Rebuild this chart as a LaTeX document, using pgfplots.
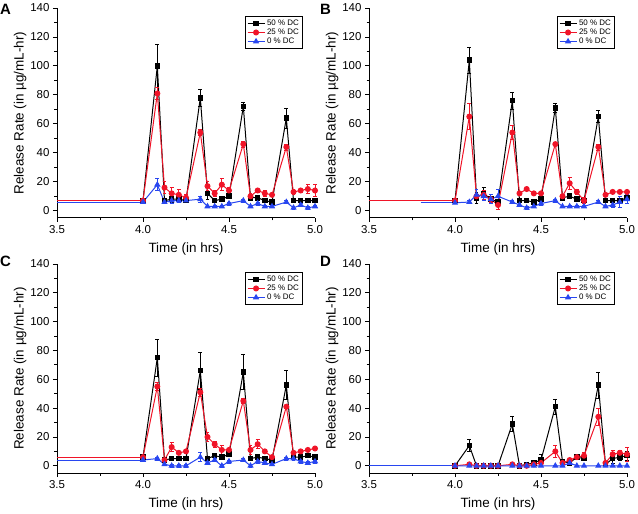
\documentclass[border=0pt]{standalone}
\usepackage{fontspec}
\setmainfont{Liberation Sans}
\usepackage{pgfplots}
\usepackage{pgfplotstable}
\pgfplotsset{compat=1.18}
\definecolor{myred}{RGB}{240,20,40}
\definecolor{myblue}{RGB}{40,70,240}

% columns: x, black (50 % DC) + err, red (25 % DC) + err, blue (0 % DC) + err
\pgfplotstableread{
x b be r re g ge
4.0 7 0.5 7 0.5 6 0.5
4.0833 100 15 81 4 18 4
4.125 7 1 16 4 6 1
4.1667 8 2 12 4 7 2
4.2083 8 1 11 4 7 1
4.25 7 1 9 2 7 1
4.3333 78 6 54 2 8 2
4.375 12 4 17 3 3 1
4.4167 7 1 12 2 3 1
4.4583 8 1 18 4 3 1
4.5 10 1 14 2 5 1
4.5833 72 3 46 2 7 1
4.625 9 1 10 2 3 1
4.6667 9 1 14 1 5 1
4.7083 7 1 12 2 3 1
4.75 6 1 11 1 3 1
4.8333 64 7 44 2 6 1
4.875 7 1 13 2 2 1
4.9167 7 1 14 1 4 1
4.9583 7 1 15 3 2 1
5.0 7 1 14 4 3 1
}\tA
\pgfplotstableread{
x b be r re g ge
4.0 7 0.5 7 0.5 5.5 0.5
4.0833 104 9 65 9 6 1
4.125 9 4 10 2 11 4
4.1667 12 4 11 3 10 3
4.2083 8 2 8 2 8 3
4.25 6 2 4 3 10 5
4.3333 76 6 54 5 6 1
4.375 7 1 12 1 4 1
4.4167 7 1 15 1 2 1
4.4583 6 1 12 1 3 1
4.5 8 1 12 1 5 1
4.5833 71 3 46 1 7 1
4.625 9 1 10 1 3 1
4.6667 10 1 19 4 3 1
4.7083 8 1 13 2 3 1
4.75 7 1 7 2 3 1
4.8333 65 4 44 2 6 1
4.875 7 1 11 1 3 1
4.9167 7 1 13 1 4 2
4.9583 7 1 13 1 6 4
5.0 9 2 13 1 8 3
}\tB
\pgfplotstableread{
x b be r re g ge
4.0 6 0.5 6 0.5 4 0.5
4.0833 75 13 55 3 5 1
4.125 4 1 4 1 1 1
4.1667 5 1 13 3 0 1
4.2083 5 1 9 1 0 1
4.25 5 1 10 1 0 1
4.3333 66 13 51 3 6 3
4.375 5 1 20 3 2 1
4.4167 7 1 15 2 4 1
4.4583 6 1 11 3 0 1
4.5 8 1 11 1 3 1
4.5833 65 12 45 2 4 1
4.625 5 1 11 3 0 1
4.6667 6 1 15 3 3 1
4.7083 5 1 10 1 2 1
4.75 4 1 6 1 1 1
4.8333 56 10 41 1 5 1
4.875 6 1 9 1 5 1
4.9167 6 1 10 1 3 1
4.9583 7 1 11 1 2 1
5.0 6 1 12 1 3 1
}\tC
\pgfplotstableread{
x b be r re g ge
4.0 0 0.3 0 0.3 0 0.3
4.0833 14 4 1 1 0 0.3
4.125 0 0.3 0 0.3 0 0.3
4.1667 0 0.3 0 0.3 0 0.3
4.2083 0 0.3 0 0.3 0 0.3
4.25 0 0.3 0 0.3 0 0.3
4.3333 29 5 1 1 0 0.3
4.375 0 0.3 0 0.3 0 0.3
4.4167 1 1 0 0.3 0 0.3
4.4583 2 1 1 1 0 0.3
4.5 4 4 2 1 0 0.3
4.5833 41 5 10 4 0 0.3
4.625 3 1 2 1 0 0.3
4.6667 2 1 4 1 2 1
4.7083 6 1 6 1 0 0.3
4.75 5 1 7 2 0 0.3
4.8333 56 9 34 6 0 0.3
4.875 1 1 2 1 0 0.3
4.9167 5 3 8 3 0 0.3
4.9583 6 2 9 2 0 0.3
5.0 7 3 8 5 0 0.3
}\tD

\pgfplotsset{
 panel/.style={
  width=258bp, height=210bp, scale only axis,
  xmin=3.5, xmax=5.0, ymin=-5, ymax=140,
  axis x line*=bottom, axis y line*=left,
  axis line style={line width=1pt, -},
  xtick={3.5,4.0,4.5,5.0}, minor xtick={3.75,4.25,4.75},
  ytick={0,20,...,140}, minor ytick={10,30,...,130},
  tick align=outside,
  major tick length=4bp, minor tick length=2.5bp,
  every tick/.style={line width=0.9pt, black},
  xticklabel style={/pgf/number format/.cd, fixed, fixed zerofill, precision=1},
  /pgf/number format/assume math mode=true,
  ticklabel style={font=\fontsize{11.5}{12}\selectfont},
  label style={font=\fontsize{13.5}{15}\selectfont},
  xlabel={Time (in hrs)}, ylabel={Release Rate (in µg/mL-hr)},
  xlabel style={at={(axis description cs:0.5,-0.148)}, anchor=center},
  ylabel style={at={(axis description cs:-0.143,0.5)}, anchor=center},
  clip=false,
  legend style={at={(0.953,0.962)}, anchor=north east,
    font=\fontsize{8}{9}\selectfont, draw=black, line width=0.9pt,
    inner sep=1.5pt, row sep=-2pt, cells={anchor=west}},
 },
 bser/.style={black, line width=1pt, mark=square*, mark size=2.3pt, mark options={solid},
  error bars/y dir=both, error bars/y explicit,
  error bars/error bar style={line width=0.8pt, black},
  error bars/error mark options={rotate=90, mark size=2pt, line width=0.8pt, black}},
 rser/.style={myred, line width=1pt, mark=*, mark size=2.5pt, mark options={solid},
  error bars/y dir=both, error bars/y explicit,
  error bars/error bar style={line width=0.8pt, myred},
  error bars/error mark options={rotate=90, mark size=2pt, line width=0.8pt, myred}},
 gser/.style={myblue, line width=1pt, mark=triangle*, mark size=2.7pt, mark options={solid},
  error bars/y dir=both, error bars/y explicit,
  error bars/error bar style={line width=0.8pt, myblue},
  error bars/error mark options={rotate=90, mark size=2pt, line width=0.8pt, myblue}},
}

\begin{document}
\begin{tikzpicture}
\useasboundingbox (0,0) rectangle (638bp,514bp);

% Panel A
\begin{axis}[panel, at={(57bp,296bp)}, anchor=south west]
\addplot[black, line width=1pt, forget plot] coordinates {(3.5,7) (4.0,7)};
\addplot[myred, line width=1pt, forget plot] coordinates {(3.5,7) (4.0,7)};
\addplot[myblue, line width=1pt, forget plot] coordinates {(3.5,6) (4.0,6)};
\addplot[bser] table[x=x, y=b, y error=be] {\tA};
\addplot[rser] table[x=x, y=r, y error=re] {\tA};
\addplot[gser] table[x=x, y=g, y error=ge] {\tA};
\legend{50 \% DC, 25 \% DC, 0 \% DC}
\end{axis}

% Panel B
\begin{axis}[panel, at={(369bp,296bp)}, anchor=south west]
\addplot[black, line width=1pt, forget plot] coordinates {(3.8,7) (4.0,7)};
\addplot[myred, line width=1pt, forget plot] coordinates {(3.5,7) (4.0,7)};
\addplot[myblue, line width=1pt, forget plot] coordinates {(3.8,5.5) (4.0,5.5)};
\addplot[bser] table[x=x, y=b, y error=be] {\tB};
\addplot[rser] table[x=x, y=r, y error=re] {\tB};
\addplot[gser] table[x=x, y=g, y error=ge] {\tB};
\legend{50 \% DC, 25 \% DC, 0 \% DC}
\end{axis}

% Panel C
\begin{axis}[panel, height=209bp, at={(57bp,41bp)}, anchor=south west]
\addplot[black, line width=1pt, forget plot] coordinates {(3.5,6) (4.0,6)};
\addplot[myred, line width=1pt, forget plot] coordinates {(3.5,6) (4.0,6)};
\addplot[myblue, line width=1pt, forget plot] coordinates {(3.5,4) (4.0,4)};
\addplot[bser] table[x=x, y=b, y error=be] {\tC};
\addplot[rser] table[x=x, y=r, y error=re] {\tC};
\addplot[gser] table[x=x, y=g, y error=ge] {\tC};
\legend{50 \% DC, 25 \% DC, 0 \% DC}
\end{axis}

% Panel D
\begin{axis}[panel, height=209bp, at={(369bp,41bp)}, anchor=south west]
\addplot[black, line width=1pt, forget plot] coordinates {(3.5,0) (4.0,0)};
\addplot[myred, line width=1pt, forget plot] coordinates {(3.5,0) (4.0,0)};
\addplot[myblue, line width=1pt, forget plot] coordinates {(3.5,0) (4.0,0)};
\addplot[bser] table[x=x, y=b, y error=be] {\tD};
\addplot[rser] table[x=x, y=r, y error=re] {\tD};
\addplot[gser] table[x=x, y=g, y error=ge] {\tD};
\legend{50 \% DC, 25 \% DC, 0 \% DC}
\end{axis}

\node[anchor=north west, inner sep=0, font=\bfseries\fontsize{15}{16}\selectfont] at (0bp,510bp) {A};
\node[anchor=north west, inner sep=0, font=\bfseries\fontsize{15}{16}\selectfont] at (320bp,510bp) {B};
\node[anchor=north west, inner sep=0, font=\bfseries\fontsize{15}{16}\selectfont] at (0bp,258bp) {C};
\node[anchor=north west, inner sep=0, font=\bfseries\fontsize{15}{16}\selectfont] at (320bp,258bp) {D};
\end{tikzpicture}
\end{document}
